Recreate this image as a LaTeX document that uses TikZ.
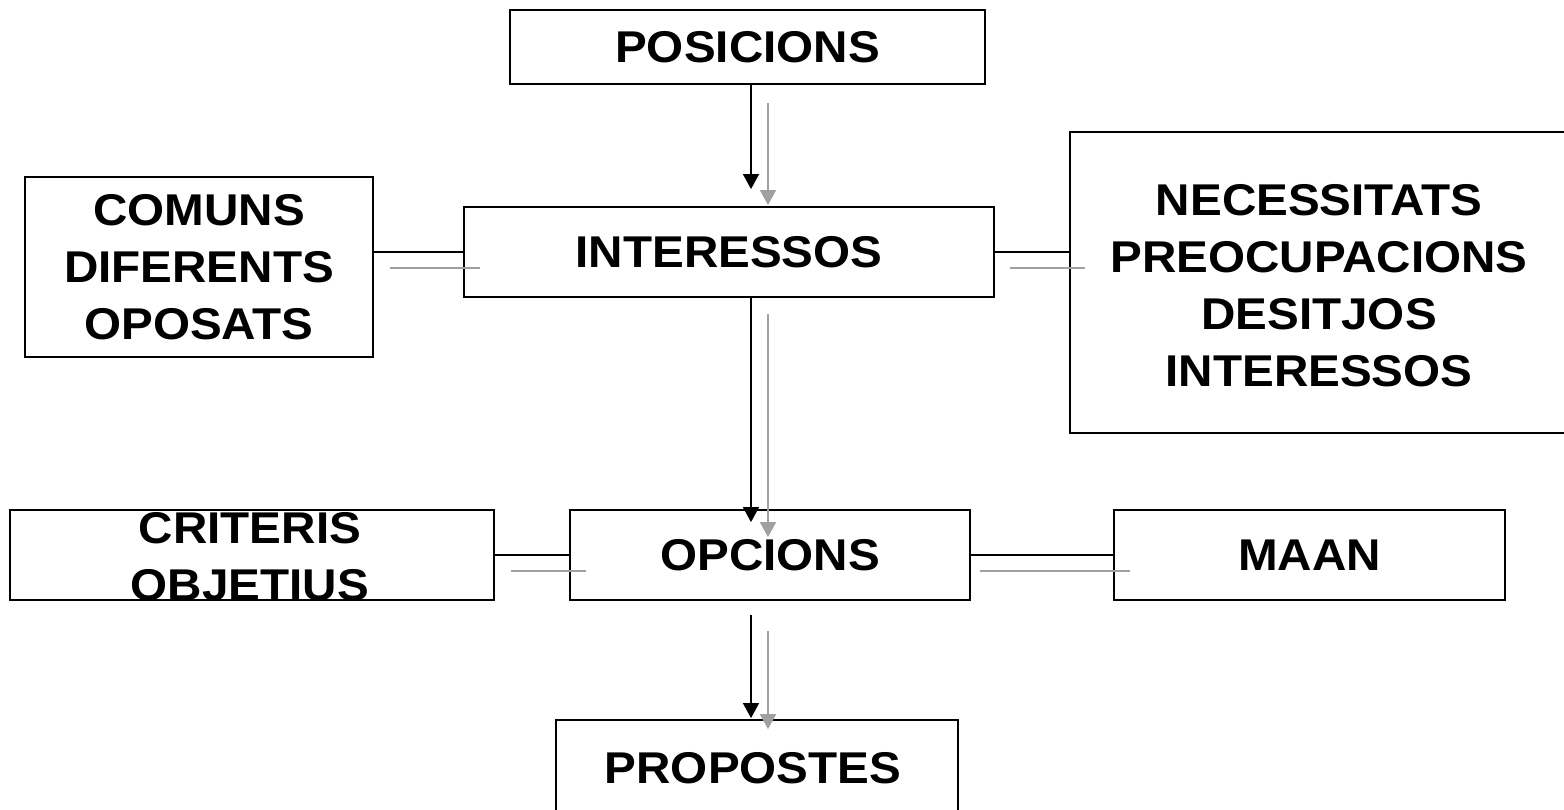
\documentclass[tikz,border=0pt]{standalone}
\usepackage{fontspec}
\setmainfont{Liberation Sans}[FakeStretch=1.07]
\usetikzlibrary{arrows.meta}
\definecolor{lgray}{RGB}{160,160,160}
\begin{document}
\begin{tikzpicture}[x=1pt,y=-1pt,
  box/.style={draw=black, line width=1.8pt, rectangle, inner sep=0pt},
  txt/.style={inner sep=0pt, align=center, font=\fontsize{44.5}{57}\selectfont\bfseries},
  blk/.style={draw=black, line width=1.3pt},
  gln/.style={draw=lgray, line width=1.5pt},
  blkarr/.style={blk, -{Triangle[length=15pt,width=16pt]}},
  glnarr/.style={gln, -{Triangle[length=15pt,width=16pt]}}]
\path[use as bounding box] (0,0) rectangle (1564,809);
\clip (0,0) rectangle (1564,809);
% boxes
\node[box, minimum width=475pt, minimum height=74pt] (pos) at (747.5,47) {};
\node[txt] (post) at (pos) {POSICIONS};
\node[box, minimum width=348pt, minimum height=180pt] (com) at (199,267) {};
\node[txt] (comt) at (com) {COMUNS\\DIFERENTS\\OPOSATS};
\node[box, minimum width=530pt, minimum height=90pt] (int) at (729,252) {};
\node[txt] (intt) at (int) {INTERESSOS};
\node[box, minimum width=500pt, minimum height=301pt] (nec) at (1320,282.5) {};
\node[txt] (nect) at (1319,286) {NECESSITATS\\PREOCUPACIONS\\DESITJOS\\INTERESSOS};
\node[box, minimum width=484pt, minimum height=90pt] (crit) at (252,555) {};
\node[txt] (critt) at (250,557) {CRITERIS\\OBJETIUS};
\node[box, minimum width=400pt, minimum height=90pt] (opc) at (770,555) {};
\node[txt] (opct) at (opc) {OPCIONS};
\node[box, minimum width=391pt, minimum height=90pt] (maan) at (1309.5,555) {};
\node[txt] (maant) at (maan) {MAAN};
\node[box, minimum width=402pt, minimum height=96pt] (prop) at (757,768) {};
\node[txt] (propt) at (753,768) {PROPOSTES};
% helper coordinates
\coordinate (bx) at (751,0);
\coordinate (gx) at (768,0);
\coordinate (g1) at (0,268);
\coordinate (g2) at (0,571);
% vertical arrows
\draw[blkarr, shorten >=17pt] (pos.south -| bx) -- (int.north -| bx);
\draw[glnarr, shorten <=18pt, shorten >=1pt] (pos.south -| gx) -- (int.north -| gx);
\draw[blkarr, shorten >=-13pt] (int.south -| bx) -- (opc.north -| bx);
\draw[glnarr, shorten <=16pt, shorten >=-28pt] (int.south -| gx) -- (opc.north -| gx);
\draw[blkarr, shorten <=14pt, shorten >=1pt] (opc.south -| bx) -- (prop.north -| bx);
\draw[glnarr, shorten <=30pt, shorten >=-10pt] (opc.south -| gx) -- (prop.north -| gx);
% horizontal double lines
\draw[blk] (int.west) -- (int.west -| com.east);
\draw[gln, shorten <=16pt, shorten >=-17pt] (com.east |- g1) -- (int.west |- g1);
\draw[blk] (int.east) -- (int.east -| nec.west);
\draw[gln, shorten <=15pt, shorten >=-16pt] (int.east |- g1) -- (nec.west |- g1);
\draw[blk] (opc.west) -- (opc.west -| crit.east);
\draw[gln, shorten <=16pt, shorten >=-17pt] (crit.east |- g2) -- (opc.west |- g2);
\draw[blk] (opc.east) -- (opc.east -| maan.west);
\draw[gln, shorten <=9pt, shorten >=-17pt] (opc.east |- g2) -- (maan.west |- g2);
\end{tikzpicture}
\end{document}
